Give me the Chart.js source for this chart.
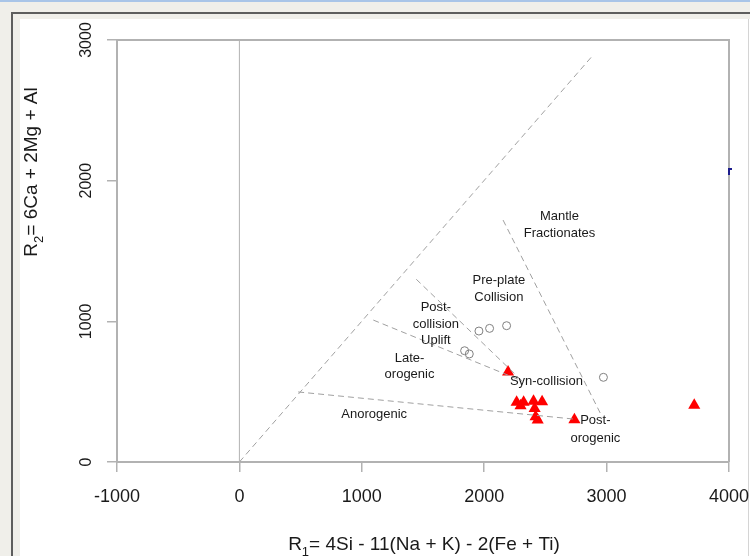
<!DOCTYPE html>
<html>
<head>
<meta charset="utf-8">
<script src="https://cdn.jsdelivr.net/npm/chart.js@4/dist/chart.umd.min.js"></script>
<style>
  html, body { margin: 0; padding: 0; }
  body { width: 750px; height: 556px; background: #f0efea; position: relative; overflow: hidden; }
  #topbar { position: absolute; left: 0; top: 0; width: 750px; height: 2px; background: #a9c5e8; }
  #frameV { position: absolute; left: 11px; top: 12px; width: 2px; height: 544px; background: #5e5e5e; }
  #frameH { position: absolute; left: 11px; top: 12px; width: 739px; height: 2px; background: #5e5e5e; }
  #paper { position: absolute; left: 20px; top: 19px; width: 730px; height: 537px; background: #fff; }
  #edge { position: absolute; left: 748px; top: 19px; width: 1px; height: 537px; background: #d4d4d4; }
  #blip { position: absolute; left: 728px; top: 168px; width: 2px; height: 7px; background: #1c1c8c; }
  #blip2 { position: absolute; left: 728px; top: 168px; width: 4px; height: 2px; background: #1c1c8c; }
  canvas { position: absolute; left: 0; top: 0; }
</style>
</head>
<body>
<div id="topbar"></div>
<div id="frameV"></div>
<div id="frameH"></div>
<div id="paper"></div>
<div id="edge"></div>
<canvas id="chart" width="750" height="556"></canvas>
<div id="blip"></div>
<div id="blip2"></div>
<script>
  // axis ticks
  const xTicks = [-1000, 0, 1000, 2000, 3000, 4000];
  const yTicks = [0, 1000, 2000, 3000];

  // samples: open circles
  const circleR1 = [1957, 2044, 2183, 1840, 1878, 2974];
  const circleR2 = [931, 950, 969, 791, 768, 602];

  // samples: red triangles
  const triR1 = [2195, 2265, 2297, 2322, 2403, 2473, 2412, 2420, 2437, 2737, 3716];
  const triR2 = [640, 425, 400, 425, 432, 428, 380, 322, 298, 300, 403];

  // field boundaries (dashed), as [R1, R2] end points
  const boundaries = [
    [[0, 0], [2876, 2879]],
    [[480, 498], [2736, 305]],
    [[1094, 1009], [2310, 576]],
    [[1445, 1299], [2310, 576]],
    [[2154, 1720], [2963, 322]],
  ];
  const zeroLine = [[0, 0], [0, 3000]];

  // field names
  const fieldLabels = [
    ["Mantle", 2615, 1744], ["Fractionates", 2615, 1626],
    ["Pre-plate", 2120, 1294], ["Collision", 2120, 1171],
    ["Post-", 1605, 1100], ["collision", 1605, 981], ["Uplift", 1605, 867],
    ["Late-", 1390, 737], ["orogenic", 1390, 626],
    ["Syn-collision", 2508, 570],
    ["Anorogenic", 1101, 341],
    ["Post-", 2908, 295], ["orogenic", 2908, 168],
  ];

  const FONT = '"Liberation Sans", Arial, sans-serif';
  const axisGrey = "#b2b2b2";

  const toPts = (xs, ys) => xs.map((x, i) => ({ x: x, y: ys[i] }));
  const seg = (s) => s.map((p) => ({ x: p[0], y: p[1] }));

  const lineSets = boundaries.map((b) => ({
    type: "line",
    data: seg(b),
    borderColor: "#a0a0a0",
    borderWidth: 1,
    borderDash: [6, 4],
    pointRadius: 0,
    fill: false,
  }));

  const drawSub = (ctx, parts, x, y) => {
    let total = 0;
    parts.forEach((p) => {
      ctx.font = (p[1] ? 13 : 19) + "px " + FONT;
      total += ctx.measureText(p[0]).width;
    });
    let cx = x - total / 2;
    parts.forEach((p) => {
      ctx.font = (p[1] ? 13 : 19) + "px " + FONT;
      ctx.fillText(p[0], cx, y + (p[1] ? 6 : 0));
      cx += ctx.measureText(p[0]).width;
    });
  };

  const decor = {
    id: "decor",
    afterDraw(chart) {
      const ctx = chart.ctx;
      const a = chart.chartArea;
      const sx = chart.scales.x;
      const sy = chart.scales.y;
      ctx.save();
      // top and right sides of the box
      ctx.strokeStyle = axisGrey;
      ctx.lineWidth = 2;
      ctx.beginPath();
      ctx.moveTo(a.left, a.top);
      ctx.lineTo(a.right, a.top);
      ctx.lineTo(a.right, a.bottom);
      ctx.stroke();

      ctx.fillStyle = "#1a1a1a";
      ctx.textAlign = "center";
      ctx.textBaseline = "middle";

      // rotated y tick labels
      ctx.font = "16px " + FONT;
      yTicks.forEach((v) => {
        const py = sy.getPixelForValue(v);
        ctx.save();
        ctx.translate(87, py);
        ctx.rotate(-Math.PI / 2);
        ctx.fillText(String(v), 0, 0);
        ctx.restore();
      });

      // field names
      ctx.font = "13px " + FONT;
      fieldLabels.forEach((l) => {
        ctx.fillText(l[0], sx.getPixelForValue(l[1]), sy.getPixelForValue(l[2]));
      });

      // axis titles
      ctx.textAlign = "left";
      ctx.textBaseline = "alphabetic";
      drawSub(ctx, [["R", 0], ["1", 1], ["= 4Si - 11(Na + K) - 2(Fe + Ti)", 0]], 424, 550);
      ctx.save();
      ctx.translate(37, 172);
      ctx.rotate(-Math.PI / 2);
      drawSub(ctx, [["R", 0], ["2", 1], ["= 6Ca + 2Mg + Al", 0]], 0, 0);
      ctx.restore();
      ctx.restore();
    },
  };

  new Chart(document.getElementById("chart"), {
    type: "scatter",
    data: {
      datasets: [
        {
          type: "line",
          data: seg(zeroLine),
          borderColor: axisGrey,
          borderWidth: 1,
          pointRadius: 0,
          fill: false,
        },
        ...lineSets,
        {
          data: toPts(circleR1, circleR2),
          pointStyle: "circle",
          pointRadius: 4,
          borderColor: "#808080",
          borderWidth: 1,
          backgroundColor: "rgba(0,0,0,0)",
        },
        {
          data: toPts(triR1, triR2),
          pointStyle: "triangle",
          pointRadius: 7,
          borderWidth: 0,
          borderColor: "#ff0000",
          backgroundColor: "#ff0000",
        },
      ],
    },
    options: {
      responsive: false,
      animation: false,
      events: [],
      layout: { autoPadding: false, padding: { top: 40, right: 21, left: 0, bottom: 0 } },
      plugins: { legend: { display: false }, tooltip: { enabled: false } },
      scales: {
        x: {
          type: "linear",
          min: -1000,
          max: 4000,
          afterBuildTicks: (s) => { s.ticks = xTicks.map((v) => ({ value: v })); },
          afterFit: (s) => { s.height = 94; s.paddingLeft = 0; s.paddingRight = 0; },
          ticks: {
            color: "#1a1a1a",
            font: { size: 18, family: FONT },
            padding: 14,
            maxRotation: 0,
            callback: (v) => String(v),
          },
          grid: { drawOnChartArea: false, drawTicks: true, tickLength: 10, color: axisGrey, lineWidth: 1.5 },
          border: { display: true, color: axisGrey, width: 2 },
        },
        y: {
          type: "linear",
          min: 0,
          max: 3000,
          afterBuildTicks: (s) => { s.ticks = yTicks.map((v) => ({ value: v })); },
          afterFit: (s) => { s.width = 117; s.paddingTop = 0; s.paddingBottom = 0; },
          ticks: { display: false },
          grid: { drawOnChartArea: false, drawTicks: true, tickLength: 10, color: axisGrey, lineWidth: 1.5 },
          border: { display: true, color: axisGrey, width: 2 },
        },
      },
    },
    plugins: [decor],
  });
</script>
</body>
</html>
